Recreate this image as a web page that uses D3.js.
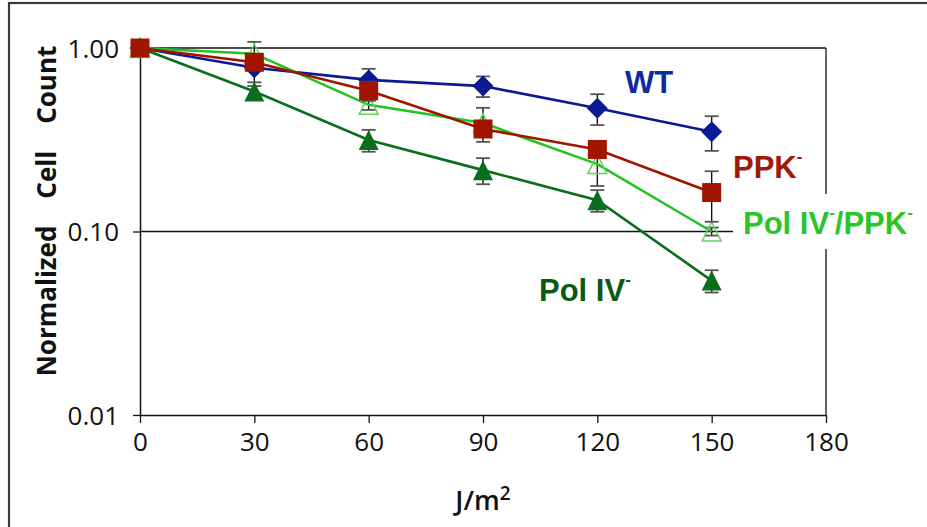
<!DOCTYPE html>
<html><head><meta charset="utf-8">
<script src="https://cdn.jsdelivr.net/npm/d3@7"></script>
<style>body{margin:0;background:#fff}</style>
</head><body><svg id="c" width="927" height="527" xmlns="http://www.w3.org/2000/svg"></svg>
<script>
// ---- data ----
const doses = [0, 30, 60, 90, 120, 150];
const wt = [1.00, 0.78, 0.67, 0.62, 0.47, 0.35];
const wtErr = [0, 0.13, 0.10, 0.08, 0.09, 0.075];
const pol4 = [1.00, 0.58, 0.315, 0.216, 0.148, 0.054];
const pol4Err = [0, 0.04, 0.043, 0.035, 0.02, 0.0075];
const pol4ppk = [1.00, 0.93, 0.49, 0.39, 0.233, 0.10];
const pol4ppkErr = [0, 0.15, 0.03, 0.082, 0.056, 0.005];
const ppk = [1.00, 0.836, 0.585, 0.362, 0.28, 0.163];
const ppkErr = [0, 0.05, 0.07, 0.02, 0.02, 0.05];
const xTicks = [0, 30, 60, 90, 120, 150, 180];
const yTicks = [0.01, 0.1, 1];

const svg = d3.select("#c");
const L = 140, R = 826, T = 48, B = 415;
const x = d3.scaleLinear().domain([0, 180]).range([L, R]);
const y = d3.scaleLog().domain([0.01, 1]).range([B, T]);

// outer frame
svg.append("rect").attr("x", 9).attr("y", 3).attr("width", 1000).attr("height", 1000)
  .attr("fill", "none").attr("stroke", "#3a3a3a").attr("stroke-width", 2.2);

// gridlines
svg.append("g").selectAll("line").data(yTicks.filter(d => d > 0.01)).join("line")
  .attr("x1", L).attr("x2", R).attr("y1", d => y(d)).attr("y2", d => y(d))
  .attr("stroke", "#111").attr("stroke-width", 1.3);
// right border
svg.append("line").attr("x1", R).attr("x2", R).attr("y1", T).attr("y2", B)
  .attr("stroke", "#111").attr("stroke-width", 1.3);

const tickFont = "'Open Sans', 'Noto Sans', sans-serif";
const yAxis = svg.append("g").attr("transform", `translate(${L},0)`)
  .call(d3.axisLeft(y).tickValues(yTicks).tickFormat(d3.format(".2f")).tickSize(7).tickSizeOuter(0).tickPadding(14));
const xAxis = svg.append("g").attr("transform", `translate(0,${B})`)
  .call(d3.axisBottom(x).tickValues(xTicks).tickFormat(d3.format("d")).tickSize(8).tickSizeOuter(0).tickPadding(9));
[yAxis, xAxis].forEach(a => {
  a.selectAll("path.domain").attr("stroke", "#111").attr("stroke-width", 1.5);
  a.selectAll(".tick line").attr("stroke", "#111").attr("stroke-width", 1.3);
  a.selectAll("text").attr("fill", "#111").style("font-family", tickFont).style("font-size", "26px");
});
yAxis.selectAll("text").attr("dy", "0.36em");
xAxis.selectAll("text").attr("dy", "0.74em");

// axis titles
svg.append("text").attr("transform", `translate(56,${211}) rotate(-90)`)
  .attr("text-anchor", "middle").style("white-space", "pre")
  .style("font-family", tickFont).style("font-weight", "bold").style("font-size", "26px").attr("fill", "#111")
  .text("Normalized    Cell    Count");
const xt = svg.append("text").attr("x", x(90)).attr("y", 510).attr("text-anchor", "middle")
  .style("font-family", tickFont).style("font-size", "27px").style("font-weight", "600").attr("fill", "#111");
xt.append("tspan").text("J/m");
xt.append("tspan").attr("dy", -10).style("font-size", "19px").text("2");

// marker shapes
const shapes = {
  diamond: r => `M0,${-r}L${r},0L0,${r}L${-r},0Z`,
  square: r => `M${-r},${-r}H${r}V${r}H${-r}Z`,
  triangle: r => `M0,${-r}L${r},${r}L${-r},${r}Z`
};

const series = [
  {vals: wt, err: wtErr, color: "#0a1a92", shape: "diamond", r: 10.5, fill: "#0a1a92", stroke: "none"},
  {vals: pol4, err: pol4Err, color: "#0b6e1c", shape: "triangle", r: 10, fill: "#0b6e1c", stroke: "none"},
  {vals: pol4ppk, err: pol4ppkErr, color: "#22c322", shape: "triangle", r: 9.5, fill: "none", stroke: "#5fd65f"},
  {vals: ppk, err: ppkErr, color: "#a01400", shape: "square", r: 9.5, fill: "#a01400", stroke: "none"}
];

const line = d3.line().x(d => x(d.d)).y(d => y(d.v));
series.forEach(s => {
  const pts = doses.map((d, i) => ({d, v: s.vals[i], e: s.err[i]}));
  const g = svg.append("g");
  const eb = g.append("g").selectAll("g").data(pts.filter(p => p.e > 0)).join("g");
  eb.append("line").attr("x1", p => x(p.d)).attr("x2", p => x(p.d))
    .attr("y1", p => y(p.v + p.e)).attr("y2", p => y(p.v - p.e)).attr("stroke", "#111").attr("stroke-width", 1.4);
  eb.selectAll("line.cap").data(p => [[p.d, p.v + p.e], [p.d, p.v - p.e]]).join("line").attr("class", "cap")
    .attr("x1", c => x(c[0]) - 7).attr("x2", c => x(c[0]) + 7)
    .attr("y1", c => y(c[1])).attr("y2", c => y(c[1])).attr("stroke", "#555").attr("stroke-width", 1.8);
  g.append("path").datum(pts).attr("d", line).attr("fill", "none")
    .attr("stroke", s.color).attr("stroke-width", 2.6);
  g.append("g").selectAll("path").data(pts).join("path")
    .attr("transform", p => `translate(${x(p.d)},${y(p.v)})`)
    .attr("d", shapes[s.shape](s.r)).attr("fill", s.fill === "none" ? "#fff" : s.fill)
    .attr("fill-opacity", s.fill === "none" ? 0 : 1)
    .attr("stroke", s.stroke).attr("stroke-width", 1.5);
});

// labels: parts alternate text and superscript minus
const labFont = "'Liberation Sans', Arial, sans-serif";
function label(xp, yp, color, parts, bg) {
  if (bg) svg.append("rect").attr("x", bg[0]).attr("y", bg[1]).attr("width", bg[2]).attr("height", bg[3]).attr("fill", "#fff");
  const t = svg.append("text").attr("x", xp).attr("y", yp).attr("fill", color)
    .style("font-family", labFont).style("font-weight", "bold").style("font-size", "31px");
  let shift = 0;
  parts.forEach(p => {
    if (p === "^") {
      t.append("tspan").attr("dy", -16).style("font-size", "17px").text("-");
      shift = 16;
    } else {
      t.append("tspan").attr("dy", shift).text(p);
      shift = 0;
    }
  });
}
label(625, 93, "#0f2a9e", ["WT"]);
label(733, 178, "#a01a0a", ["PPK", "^"]);
label(743, 234, "#2bc52b", ["Pol IV", "^", "/PPK", "^"], [733, 194, 194, 55]);
label(539, 301, "#0b5a14", ["Pol IV", "^"]);
</script>
</body></html>
